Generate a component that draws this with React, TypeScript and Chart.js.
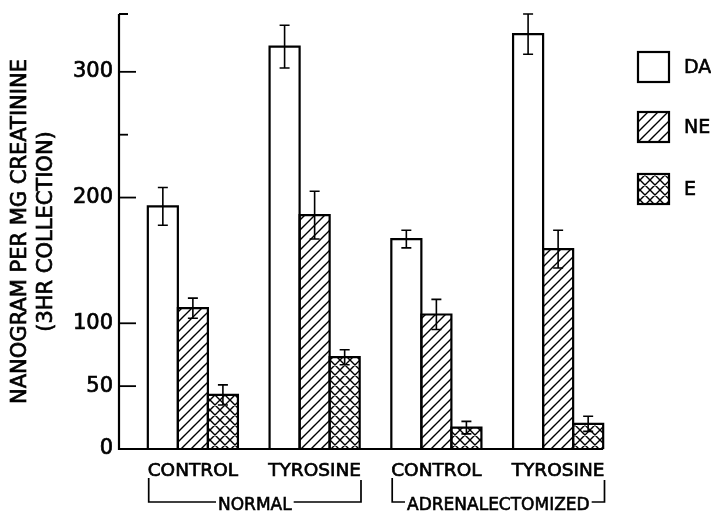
import React, { useEffect, useRef } from "react";
import { Chart, registerables } from "chart.js";

Chart.register(...registerables);

// ---- data ----
const categories = ["CONTROL", "TYROSINE", "CONTROL", "TYROSINE"];
const groupLabels = ["NORMAL", "ADRENALECTOMIZED"];
const groupRanges = [
  [0, 1],
  [2, 3],
];
const seriesNames = ["DA", "NE", "E"];
const daValues = [193, 320, 167, 330];
const daErrors = [15, 17, 7, 16];
const neValues = [112, 186, 107, 159];
const neErrors = [8, 19, 12, 15];
const eValues = [43, 73, 17, 20];
const eErrors = [8, 6, 5, 6];
const yTickLabels = [0, 50, 100, 200, 300];
const yUnlabeledTicks = [250];
const yMax = 346;
const yTitle = ["NANOGRAM PER MG CREATININE", "(3HR COLLECTION)"];

const FONT = "'DejaVu Sans', sans-serif";

function makePattern(kind: "hatch" | "cross"): CanvasPattern | string {
  const s = 10;
  const c = document.createElement("canvas");
  c.width = s;
  c.height = s;
  const g = c.getContext("2d");
  if (!g) return "#fff";
  g.fillStyle = "#fff";
  g.fillRect(0, 0, s, s);
  g.strokeStyle = "#000";
  g.lineWidth = 1.4;
  g.beginPath();
  g.moveTo(-1, s + 1);
  g.lineTo(s + 1, -1);
  g.moveTo(-1, 1);
  g.lineTo(1, -1);
  g.moveTo(s - 1, s + 1);
  g.lineTo(s + 1, s - 1);
  if (kind === "cross") {
    g.moveTo(-1, -1);
    g.lineTo(s + 1, s + 1);
    g.moveTo(s - 1, -1);
    g.lineTo(s + 1, 1);
    g.moveTo(-1, s - 1);
    g.lineTo(1, s + 1);
  }
  g.stroke();
  const p = g.createPattern(c, "repeat");
  return p || "#fff";
}

function boldText(ctx: CanvasRenderingContext2D, t: string, x: number, y: number) {
  ctx.fillText(t, x, y);
  ctx.strokeText(t, x, y);
}

export default function App() {
  const ref = useRef<HTMLCanvasElement | null>(null);

  useEffect(() => {
    const canvas = ref.current;
    if (!canvas) return;
    const hatch = makePattern("hatch");
    const cross = makePattern("cross");
    const fills = ["#ffffff", hatch, cross];
    const errors = [daErrors, neErrors, eErrors];

    const decor = {
      id: "decor",
      afterDatasetsDraw(chart: any) {
        const ctx: CanvasRenderingContext2D = chart.ctx;
        const area = chart.chartArea;
        const ys = chart.scales.y;
        const xs = chart.scales.x;
        ctx.save();
        ctx.strokeStyle = "#000";
        ctx.fillStyle = "#000";

        // bar outlines (centered on edges so neighbours share one line)
        ctx.lineWidth = 2.2;
        chart.data.datasets.forEach((_ds: any, di: number) => {
          const meta = chart.getDatasetMeta(di);
          meta.data.forEach((el: any) => {
            const l = el.x - el.width / 2;
            const r = el.x + el.width / 2;
            ctx.beginPath();
            ctx.moveTo(l, el.base);
            ctx.lineTo(l, el.y);
            ctx.lineTo(r, el.y);
            ctx.lineTo(r, el.base);
            ctx.stroke();
          });
        });

        // error bars
        ctx.lineWidth = 1.6;
        chart.data.datasets.forEach((ds: any, di: number) => {
          const meta = chart.getDatasetMeta(di);
          meta.data.forEach((el: any, i: number) => {
            const v = ds.data[i];
            const e = errors[di][i];
            const x = el.x;
            const yt = ys.getPixelForValue(v + e);
            const yb = ys.getPixelForValue(v - e);
            ctx.beginPath();
            ctx.moveTo(x, yt);
            ctx.lineTo(x, yb);
            ctx.moveTo(x - 5, yt);
            ctx.lineTo(x + 5, yt);
            ctx.moveTo(x - 5, yb);
            ctx.lineTo(x + 5, yb);
            ctx.stroke();
          });
        });

        // axes
        const axisX = area.left - 13;
        const lastMeta = chart.getDatasetMeta(2);
        const lastEl: any = lastMeta.data[lastMeta.data.length - 1];
        const rightEnd = lastEl.x + lastEl.width / 2;
        ctx.lineWidth = 2.2;
        ctx.beginPath();
        ctx.moveTo(axisX, area.top);
        ctx.lineTo(axisX, area.bottom);
        ctx.lineTo(rightEnd, area.bottom);
        ctx.moveTo(axisX, area.top);
        ctx.lineTo(axisX + 9, area.top);
        ctx.stroke();

        // y ticks
        ctx.lineWidth = 1.8;
        yTickLabels.forEach((v) => {
          if (v === 0) return;
          const y = ys.getPixelForValue(v);
          ctx.beginPath();
          ctx.moveTo(axisX, y);
          ctx.lineTo(axisX + 17, y);
          ctx.stroke();
        });
        yUnlabeledTicks.forEach((v) => {
          const y = ys.getPixelForValue(v);
          ctx.beginPath();
          ctx.moveTo(axisX, y);
          ctx.lineTo(axisX + 9, y);
          ctx.stroke();
        });
        ctx.lineWidth = 0.7;
        ctx.font = `21px ${FONT}`;
        ctx.textAlign = "right";
        ctx.textBaseline = "middle";
        yTickLabels.forEach((v) => {
          const y = ys.getPixelForValue(v);
          boldText(ctx, String(v), axisX - 6, y);
        });

        // y title
        ctx.save();
        ctx.translate(0, (area.top + area.bottom) / 2);
        ctx.rotate(-Math.PI / 2);
        ctx.textAlign = "center";
        ctx.textBaseline = "middle";
        ctx.font = `21px ${FONT}`;
        boldText(ctx, yTitle[0], 0, 21);
        boldText(ctx, yTitle[1], 0, 47);
        ctx.restore();

        // category labels
        ctx.font = `18.5px ${FONT}`;
        ctx.textAlign = "center";
        ctx.textBaseline = "middle";
        const labelY = 471;
        const widths: number[] = [];
        categories.forEach((c, i) => {
          const x = xs.getPixelForValue(i);
          boldText(ctx, c, x, labelY);
          widths.push(ctx.measureText(c).width);
        });

        // group brackets
        const brY = 502;
        groupLabels.forEach((g, gi) => {
          const [a, b] = groupRanges[gi];
          const left = xs.getPixelForValue(a) - widths[a] / 2 + 1;
          const right = xs.getPixelForValue(b) + widths[b] / 2;
          const mid = (left + right) / 2;
          ctx.font = `17px ${FONT}`;
          const tw = ctx.measureText(g).width;
          ctx.lineWidth = 1.7;
          ctx.beginPath();
          ctx.moveTo(left, 478);
          ctx.lineTo(left, brY);
          ctx.lineTo(mid - tw / 2 - 2, brY);
          ctx.moveTo(mid + tw / 2 + 2, brY);
          ctx.lineTo(right, brY);
          ctx.lineTo(right, 480);
          ctx.stroke();
          ctx.lineWidth = 0.6;
          ctx.textAlign = "center";
          ctx.textBaseline = "top";
          boldText(ctx, g, mid, 497);
        });

        // legend
        const boxX = 638;
        const boxW = 31;
        const boxH = 30;
        const centers = [67, 127, 189];
        seriesNames.forEach((n, i) => {
          const cy = centers[i];
          ctx.fillStyle = fills[i] as any;
          ctx.fillRect(boxX, cy - boxH / 2, boxW, boxH);
          ctx.lineWidth = 2.2;
          ctx.strokeStyle = "#000";
          ctx.strokeRect(boxX, cy - boxH / 2, boxW, boxH);
          ctx.fillStyle = "#000";
          ctx.font = `19px ${FONT}`;
          ctx.textAlign = "left";
          ctx.textBaseline = "middle";
          ctx.lineWidth = 0.6;
          boldText(ctx, n, 684, cy + 1);
        });

        ctx.restore();
      },
    };

    const chart = new Chart(canvas, {
      type: "bar",
      data: {
        labels: categories,
        datasets: [
          { label: seriesNames[0], data: daValues, backgroundColor: fills[0] as any },
          { label: seriesNames[1], data: neValues, backgroundColor: fills[1] as any },
          { label: seriesNames[2], data: eValues, backgroundColor: fills[2] as any },
        ].map((d) => ({
          ...d,
          borderColor: "#000",
          borderWidth: 0,
          categoryPercentage: 0.74,
          barPercentage: 1.0,
        })),
      },
      options: {
        responsive: false,
        maintainAspectRatio: false,
        animation: false,
        layout: { padding: { left: 132, right: 92, top: 14, bottom: 62 } },
        plugins: {
          legend: { display: false },
          tooltip: { enabled: false },
          title: { display: false },
        },
        scales: {
          x: { type: "category", display: false, offset: true, grid: { display: false } },
          y: { display: false, min: 0, max: yMax, grid: { display: false } },
        },
      },
      plugins: [decor],
    });
    return () => chart.destroy();
  }, []);

  return (
    <div style={{ position: "fixed", left: 0, top: 0, width: 711, height: 511, background: "#fff" }}>
      <canvas ref={ref} width={711} height={511} style={{ width: 711, height: 511, display: "block" }} />
    </div>
  );
}
